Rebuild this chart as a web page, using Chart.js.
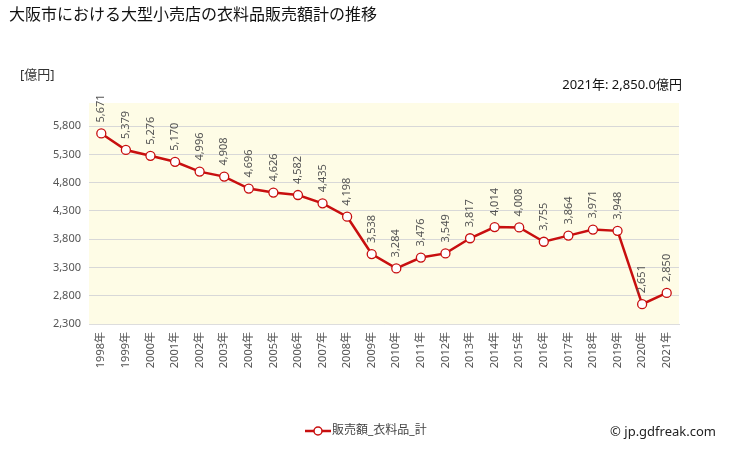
<!DOCTYPE html>
<html>
<head>
<meta charset="utf-8">
<script src="https://cdn.jsdelivr.net/npm/chart.js@4"></script>
<style>
  body { margin: 0; background: #fff; }
  #wrap { width: 729px; height: 450px; position: relative; }
</style>
</head>
<body>
<div id="wrap"><canvas id="myChart" width="729" height="450"></canvas></div>
<script>
const years = ["1998年", "1999年", "2000年", "2001年", "2002年", "2003年", "2004年", "2005年", "2006年", "2007年", "2008年", "2009年",
    "2010年", "2011年", "2012年", "2013年", "2014年", "2015年", "2016年", "2017年", "2018年", "2019年", "2020年", "2021年"];
const sales = [5671, 5379, 5276, 5170, 4996, 4908, 4696, 4626, 4582, 4435, 4198, 3538,
    3284, 3476, 3549, 3817, 4014, 4008, 3755, 3864, 3971, 3948, 2651, 2850];
const yTicks = [2300, 2800, 3300, 3800, 4300, 4800, 5300, 5800];

const FONT = '"Noto Sans", "Noto Sans CJK JP", sans-serif';
const RED = '#c80f0f';

const fmt = v => v.toLocaleString('en-US');

// plot background + text around the chart
const extras = {
    id: 'extras',
    beforeDraw(chart) {
        const { ctx, chartArea: a } = chart;
        ctx.save();
        ctx.fillStyle = '#fefce6';
        ctx.fillRect(a.left, a.top, a.right - a.left, a.bottom - a.top);
        ctx.restore();
    },
    afterDatasetsDraw(chart) {
        const { ctx } = chart;
        const meta = chart.getDatasetMeta(0);
        ctx.save();
        // value labels, rotated
        ctx.font = '11px ' + FONT;
        ctx.fillStyle = '#555';
        ctx.textAlign = 'left';
        ctx.textBaseline = 'middle';
        meta.data.forEach((pt, i) => {
            ctx.save();
            ctx.translate(pt.x, pt.y - 11);
            ctx.rotate(-Math.PI / 2);
            ctx.fillText(fmt(sales[i]), 0, 0);
            ctx.restore();
        });

        // title
        ctx.fillStyle = '#111';
        ctx.font = '16px ' + FONT;
        ctx.textBaseline = 'middle';
        ctx.fillText('大阪市における大型小売店の衣料品販売額計の推移', 9, 15);

        ctx.font = '13px ' + FONT;
        ctx.fillStyle = '#333';
        ctx.fillText('[億円]', 20, 75);

        ctx.textAlign = 'right';
        ctx.fillStyle = '#111';
        ctx.fillText('2021年: 2,850.0億円', 682, 85);

        // legend
        const lx = 305, ly = 431;
        ctx.strokeStyle = RED;
        ctx.lineWidth = 2.5;
        ctx.beginPath();
        ctx.moveTo(lx, ly);
        ctx.lineTo(lx + 26, ly);
        ctx.stroke();
        ctx.beginPath();
        ctx.arc(lx + 13, ly, 4, 0, Math.PI * 2);
        ctx.fillStyle = '#fff';
        ctx.fill();
        ctx.lineWidth = 1.5;
        ctx.stroke();
        ctx.textAlign = 'left';
        ctx.fillStyle = '#444';
        ctx.font = '12px ' + FONT;
        ctx.fillText('販売額_衣料品_計', lx + 27, ly);

        ctx.textAlign = 'right';
        ctx.fillStyle = '#222';
        ctx.font = '13px ' + FONT;
        ctx.fillText('© jp.gdfreak.com', 716, 432);
        ctx.restore();
    }
};

const chart = new Chart(document.getElementById('myChart'), {
    type: 'line',
    data: {
        labels: years,
        datasets: [{
            label: '販売額_衣料品_計',
            data: sales,
            borderColor: RED,
            borderWidth: 2.5,
            backgroundColor: '#fff',
            pointBackgroundColor: '#fff',
            pointBorderColor: RED,
            pointBorderWidth: 1.3,
            pointRadius: 4.5,
            tension: 0
        }]
    },
    options: {
        responsive: false,
        animation: false,
        layout: { padding: { top: 103, right: 50, left: 0, bottom: 0 } },
        plugins: {
            legend: { display: false },
            tooltip: { enabled: false }
        },
        scales: {
            x: {
                offset: true,
                grid: { display: false, drawTicks: false },
                border: { color: '#ddd' },
                ticks: {
                    minRotation: 90,
                    maxRotation: 90,
                    padding: 8,
                    color: '#555',
                    font: { size: 11, family: FONT }
                },
                afterFit(scale) { scale.height = 126; }
            },
            y: {
                min: 2300,
                max: 6210,
                grid: { color: '#d8d8d8', drawTicks: false },
                border: { display: false },
                ticks: {
                    padding: 8,
                    color: '#555',
                    font: { size: 11, family: FONT },
                    callback: v => fmt(v)
                },
                afterBuildTicks(scale) { scale.ticks = yTicks.map(v => ({ value: v })); },
                afterFit(scale) { scale.width = 89; }
            }
        }
    },
    plugins: [extras]
});
</script>
</body>
</html>
